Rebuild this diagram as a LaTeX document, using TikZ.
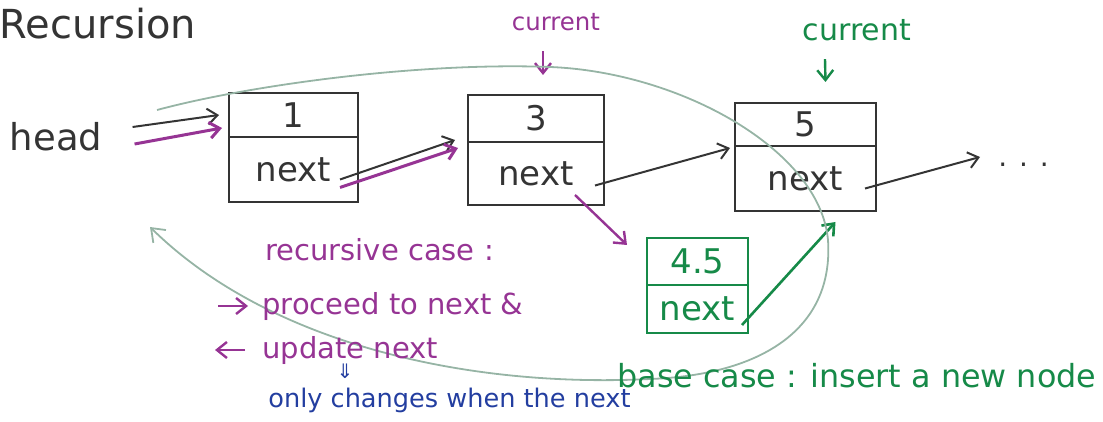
\documentclass[tikz,border=0pt]{standalone}
\usepackage{fontspec}
\setmainfont{DejaVu Sans}
\usetikzlibrary{arrows.meta}
\definecolor{ink}{RGB}{52,52,52}
\definecolor{pen}{RGB}{150,52,148}
\definecolor{leaf}{RGB}{22,138,72}
\definecolor{note}{RGB}{35,62,160}
\definecolor{trace}{RGB}{150,180,165}
\tikzset{
  cell/.style={draw=ink, line width=1.4pt, inner sep=0pt, outer sep=0pt, text=ink,
    font=\fontsize{17}{17}\selectfont},
  newcell/.style={cell, draw=leaf, text=leaf},
  tip/.style={-{Straight Barb[length=5pt,width=8pt]}},
  link/.style={tip, draw=ink, line width=1pt},
  plink/.style={tip, draw=pen, line width=1.5pt},
  glink/.style={tip, draw=leaf, line width=1.3pt},
  words/.style={inner sep=0pt},
  pnote/.style={words, text=pen, anchor=west, font=\fontsize{14.5}{14.5}\selectfont},
}
\begin{document}
\begin{tikzpicture}[x=0.5pt,y=-0.5pt]
\useasboundingbox (0,0) rectangle (1103,422);

% title and list head
\node[words, text=ink, font=\fontsize{20}{20}\selectfont] (title) at (98,24) {Recursion};
\node[words, text=ink, font=\fontsize{18.5}{18.5}\selectfont] (head) at (56,137) {head};

% list cells: value on top, next pointer below
\node[cell, minimum width=64.5pt, minimum height=22pt, anchor=north west] (b1t) at (229,93) {1};
\node[cell, minimum width=64.5pt, minimum height=32.5pt, anchor=north] (b1b) at (b1t.south) {next};
\node[cell, minimum width=68pt, minimum height=23.5pt, anchor=north west] (b2t) at (468,95) {3};
\node[cell, minimum width=68pt, minimum height=31.5pt, anchor=north] (b2b) at (b2t.south) {next};
\node[cell, minimum width=70.5pt, minimum height=21.5pt, anchor=north west] (b3t) at (735,103) {5};
\node[cell, minimum width=70.5pt, minimum height=32.5pt, anchor=north] (b3b) at (b3t.south) {next};
\node[newcell, minimum width=50.5pt, minimum height=23.5pt, anchor=north west] (gt) at (647,238) {4.5};
\node[newcell, minimum width=50.5pt, minimum height=24pt, anchor=north] (gb) at (gt.south) {next};
\node[words, text=ink, font=\fontsize{14}{14}\selectfont, anchor=west] (dots) at (998,165) {. . .};

% "current" markers
\node[words, text=pen, font=\fontsize{12.2}{12.2}\selectfont] (curP) at (556,22) {current};
\node[words, text=leaf, font=\fontsize{15}{15}\selectfont] (curG) at (857,30) {current};
\draw[tip, draw=pen, line width=1.2pt] ([xshift=-6.5pt,yshift=-10pt]curP.south) -- ([xshift=3.5pt,yshift=10pt]b2t.north);
\draw[tip, draw=leaf, line width=1.2pt] ([xshift=-16pt,yshift=-9pt]curG.south) -- ([xshift=10pt,yshift=10.5pt]b3t.north);

% pointers
\draw[link] ([xshift=15pt,yshift=5pt]head.east) -- ([xshift=-5pt]b1t.west);
\draw[plink] ([xshift=16pt,yshift=-3.5pt]head.east) -- ([xshift=-3.5pt,yshift=-6.5pt]b1t.west);
\draw[link] ([xshift=-9pt,yshift=-5pt]b1b.east) -- ([xshift=-6.5pt,yshift=1pt]b2t.south west);
\draw[plink] ([xshift=-9pt,yshift=-9pt]b1b.east) -- ([xshift=-5pt,yshift=-3pt]b2t.south west);
\draw[link] ([xshift=-4.5pt,yshift=-6pt]b2b.east) -- ([xshift=-2.5pt,yshift=-1pt]b3t.south west);
\draw[link] ([xshift=-5.5pt,yshift=-5pt]b3b.east) -- ([xshift=-9pt,yshift=4pt]dots.west);
\draw[plink, line width=1.2pt] ([xshift=19.5pt,yshift=5pt]b2b.south) -- ([xshift=-10pt,yshift=-3.5pt]gt.north west);
\draw[glink] ([xshift=-3pt,yshift=-8pt]gb.east) -- ([xshift=15pt,yshift=-5.5pt]b3b.south);

% the call going down the list and returning
\coordinate (loopstart) at (157,110);
\coordinate (loopend) at (150,227);
\draw[trace, line width=0.9pt, -{Straight Barb[length=6pt,width=9pt]}]
  (loopstart) .. controls (250,85) and (420,62) .. (550,67)
  .. controls (680,72) and (820,150) .. (828,240)
  .. controls (834,330) and (760,375) .. (650,379)
  .. controls (470,388) and (270,345) .. (loopend);

% notes
\node[pnote] (rec) at (265,250) {recursive case :};
\node[pnote] (fwd) at (262,306) {proceed to next \&};
\node[pnote] (back) at (262,350) {update next};
\draw[tip, draw=pen, line width=1.2pt] ([xshift=-22pt]fwd.west) -- ([xshift=-7pt]fwd.west);
\draw[tip, draw=pen, line width=1.2pt] ([xshift=-8.5pt]back.west) -- ([xshift=-23.5pt]back.west);
\node[words, text=note, font=\fontsize{10}{10}\selectfont] (dbl) at (345,371) {⇓};
\node[words, text=note, font=\fontsize{12.8}{12.8}\selectfont, anchor=west] (only) at (268,400) {only changes when the next};
\node[words, text=leaf, font=\fontsize{15.9}{15.9}\selectfont, anchor=west] (base) at (617,376) {base case : insert a new node};
\end{tikzpicture}
\end{document}
